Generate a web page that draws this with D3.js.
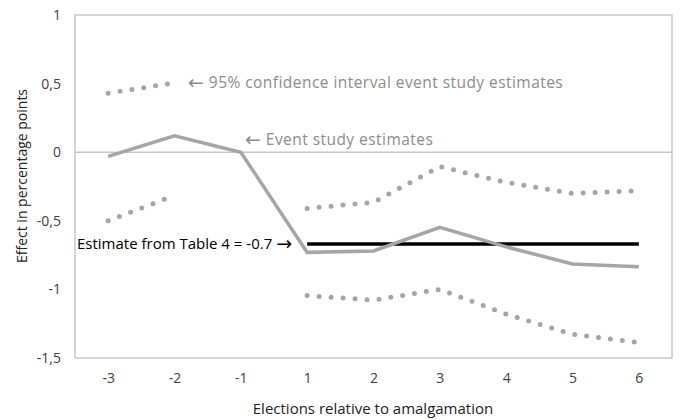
<!DOCTYPE html>
<html><head><meta charset="utf-8">
<script src="https://cdn.jsdelivr.net/npm/d3@7"></script>
<style>body{margin:0;background:#fff}svg{display:block}</style>
</head><body><svg id="c" width="680" height="420"></svg>
<script>
const categories = ["-3","-2","-1","1","2","3","4","5","6"];
const estimates = [-0.03, 0.12, 0.0, -0.73, -0.72, -0.547, -0.69, -0.815, -0.835];
const upperCI = [0.43, 0.505, null, -0.41, -0.365, -0.105, -0.22, -0.30, -0.28];
const lowerCI = [-0.50, -0.315, null, -1.045, -1.078, -1.0, -1.18, -1.327, -1.388];
const tableEstimate = -0.67;
const tableEstimateRange = ["1","6"];
const yTicks = [1, 0.5, 0, -0.5, -1, -1.5];
const yTickLabels = ["1","0,5","0","-0,5","-1","-1,5"];

const svg = d3.select("#c");
const m = {l:75, r:8, t:15, b:62};
const W = 680, H = 420;
const x = d3.scalePoint().domain(categories).range([m.l, W-m.r]).padding(0.5);
const y = d3.scaleLinear().domain([-1.5, 1]).range([H-m.b, m.t]);
const font = "'Open Sans', sans-serif";
const arrowFont = "'DejaVu Sans', sans-serif";

// frame
svg.append("rect").attr("x", m.l).attr("y", m.t).attr("width", W-m.r-m.l).attr("height", H-m.b-m.t)
  .attr("fill","none").attr("stroke","#c8c8c8").attr("stroke-width",1.5);
// zero line
svg.append("line").attr("x1", m.l).attr("x2", W-m.r).attr("y1", y(0)).attr("y2", y(0))
  .attr("stroke","#c8c8c8").attr("stroke-width",1.5);

// y axis
const yAxis = d3.axisLeft(y).tickValues(yTicks).tickFormat((d,i)=>yTickLabels[i]).tickSize(0).tickPadding(14);
const gy = svg.append("g").attr("transform",`translate(${m.l},0)`).call(yAxis);
gy.select(".domain").remove();
gy.selectAll("text").attr("font-family",font).attr("font-size",14).attr("fill","#404040");

// x axis
const xAxis = d3.axisBottom(x).tickSize(0).tickPadding(15);
const gx = svg.append("g").attr("transform",`translate(0,${H-m.b})`).call(xAxis);
gx.select(".domain").remove();
gx.selectAll("text").attr("font-family",font).attr("font-size",14).attr("fill","#404040");

// CI dotted lines
const lineGen = d3.line().x(d=>x(d[0])).y(d=>y(d[1]));
[upperCI, lowerCI].forEach(arr=>{
  const pts = categories.map((c,i)=>[c, arr[i]]);
  let seg = [];
  const segs = [];
  pts.forEach(p=>{ if(p[1]===null){ if(seg.length) segs.push(seg); seg=[]; } else seg.push(p); });
  if(seg.length) segs.push(seg);
  segs.forEach(s=>{
    svg.append("path").attr("d", lineGen(s)).attr("fill","none").attr("stroke","#a6a6a6")
      .attr("stroke-width",5).attr("stroke-linecap","round").attr("stroke-dasharray","0 12");
  });
});

// table estimate line
svg.append("line").attr("x1", x(tableEstimateRange[0])).attr("x2", x(tableEstimateRange[1]))
  .attr("y1", y(tableEstimate)).attr("y2", y(tableEstimate))
  .attr("stroke","#000").attr("stroke-width",3.5);

// event study line
svg.append("path").attr("d", lineGen(categories.map((c,i)=>[c, estimates[i]])))
  .attr("fill","none").attr("stroke","#a6a6a6").attr("stroke-width",3.5).attr("stroke-linejoin","miter");

// annotations
function ann(xp, yp, parts, color, ls, fs){
  const t = svg.append("text").attr("x",xp).attr("y",yp).attr("fill",color)
    .attr("font-family",font).attr("font-size",fs).attr("letter-spacing",ls);
  parts.forEach(p=>{
    const ts = t.append("tspan").text(p.t);
    if(p.arrow) ts.attr("font-family",arrowFont).attr("font-size",19).attr("dy",p.dy||0);
    else if(p.dy) ts.attr("dy",p.dy);
  });
}
ann(188, 88, [{t:"\u2190", arrow:true, dy:1},{t:" 95% confidence interval event study estimates", dy:-1}], "#8c8c8c", 0.45, 15.5);
ann(245, 145, [{t:"\u2190", arrow:true, dy:1},{t:" Event study estimates", dy:-1}], "#8c8c8c", 0.45, 15.5);
ann(77, 249, [{t:"Estimate from Table 4 = -0.7 "},{t:"\u2192", arrow:true, dy:1}], "#000", 0, 15);

// axis titles
svg.append("text").attr("x", 373).attr("y", 414).attr("text-anchor","middle")
  .text("Elections relative to amalgamation").attr("font-family",font).attr("font-size",15).attr("fill","#222");
svg.append("text").attr("transform",`translate(27,176) rotate(-90)`).attr("text-anchor","middle")
  .text("Effect in percentage points").attr("font-family",font).attr("font-size",14).attr("fill","#222");
</script></body></html>
